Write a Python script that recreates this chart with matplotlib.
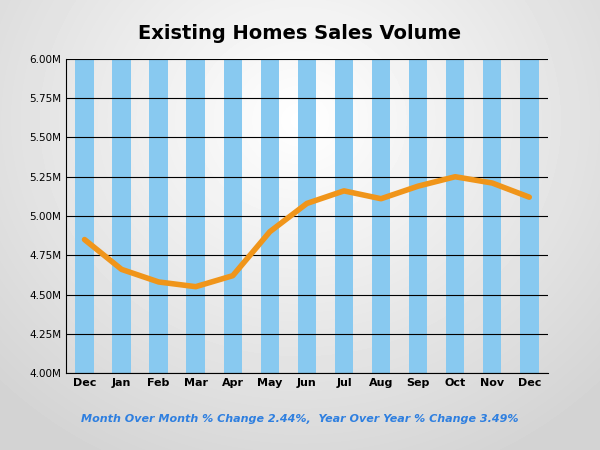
import numpy as np
import matplotlib.pyplot as plt
from matplotlib.ticker import FuncFormatter

months = ['Dec', 'Jan', 'Feb', 'Mar', 'Apr', 'May', 'Jun', 'Jul', 'Aug', 'Sep', 'Oct', 'Nov', 'Dec']
sales = [4.85, 4.66, 4.58, 4.55, 4.62, 4.90, 5.08, 5.16, 5.11, 5.19, 5.25, 5.21, 5.12]
y_min, y_max = 4.0, 6.0
footnote = 'Month Over Month % Change 2.44%,  Year Over Year % Change 3.49%'

fig = plt.figure(figsize=(6, 4.5), dpi=100)

# radial grey background
bg = fig.add_axes([0, 0, 1, 1], zorder=-10)
yy, xx = np.mgrid[0:450, 0:600]
r = np.sqrt(((xx - 300) / 420) ** 2 + ((yy - 120) / 380) ** 2)
bg.imshow(1 - 0.17 * np.clip(r, 0, 1), cmap='gray', vmin=0, vmax=1, aspect='auto')
bg.axis('off')

ax = fig.add_axes([0.11, 0.171, 0.803, 0.698])
ax.set_facecolor('none')
x = np.arange(len(months))
ax.bar(x, [y_max - y_min] * len(x), bottom=y_min, width=0.5, color='#88C9F0', zorder=1)
for v in np.arange(y_min, y_max + 0.01, 0.25):
    ax.axhline(v, color='black', linewidth=0.8, zorder=2)
ax.plot(x, sales, color='#F0951A', linewidth=4, solid_capstyle='round', zorder=3)

ax.set_xlim(-0.5, len(x) - 0.5)
ax.set_ylim(y_min, y_max)
ax.set_xticks(x)
ax.set_xticklabels(months, fontweight='bold', fontsize=8)
ax.set_yticks(np.arange(y_min, y_max + 0.01, 0.25))
ax.yaxis.set_major_formatter(FuncFormatter(lambda v, p: f'{v:.2f}M'))
ax.tick_params(axis='y', labelsize=7.5, length=0)
ax.tick_params(axis='x', length=0)
for s in ['top', 'right']:
    ax.spines[s].set_visible(False)

fig.text(0.5, 0.925, 'Existing Homes Sales Volume', ha='center', va='center',
         fontsize=14, fontweight='bold')
fig.text(0.5, 0.07, footnote, ha='center', va='center', fontsize=8,
         fontweight='bold', style='italic', color='#2E7FE0')

fig.savefig('out.png', dpi=100)
